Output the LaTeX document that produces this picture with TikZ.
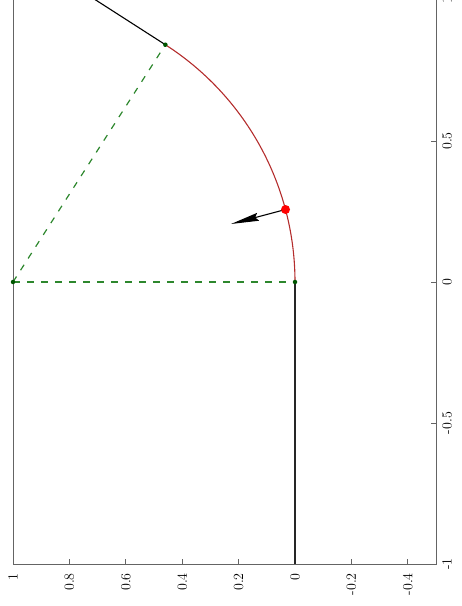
\documentclass[tikz,border=0pt]{standalone}
\usetikzlibrary{arrows.meta}
\definecolor{arcred}{RGB}{180,45,45}
\definecolor{dashgreen}{RGB}{45,135,45}
\definecolor{dotgreen}{RGB}{0,85,0}
\definecolor{framegray}{RGB}{100,100,100}
\begin{document}
\begin{tikzpicture}[
  ticklab/.style={font=\fontsize{14}{16}\selectfont, inner sep=0pt, rotate=90},
  framestyle/.style={draw=framegray, line width=0.9pt},
  tickstyle/.style={draw=framegray, line width=0.8pt},
  arcstyle/.style={draw=arcred, line width=1.1pt},
  blackline/.style={draw=black, line width=1.1pt},
  dashline/.style={draw=dashgreen, line width=1.2pt, dash pattern=on 6.5pt off 7.5pt},
  gdot/.style={circle, fill=dotgreen, inner sep=0pt, minimum size=4.5pt},
  rdot/.style={circle, fill=red, inner sep=0pt, minimum size=9pt},
]
\useasboundingbox (0pt,0pt) rectangle (462pt,606pt);
\clip (0pt,0pt) rectangle (462pt,606pt);
\begin{scope}[shift={(295pt,324pt)}, x={(0pt,282pt)}, y={(-282pt,0pt)}]
  % frame (top edge lies at the cropped border)
  \draw[framestyle] (1.05,1) -- (-1,1) -- (-1,-0.5) -- (1.05,-0.5);
  % ticks on bottom edge (original y axis)
  \foreach \v in {0.8,0.6,0.4,0.2,0,-0.2,-0.4}
    \draw[tickstyle] (-1,\v) -- ++(0.018,0);
  % ticks on right edge (original x axis)
  \foreach \v in {0.5,0,-0.5}
    \draw[tickstyle] (\v,-0.5) -- ++(0,0.018);
  % bottom tick labels
  \foreach \v/\t [count=\i] in {1/1,0.8/0.8,0.6/0.6,0.4/0.4,0.2/0.2,0/0,-0.2/-0.2,-0.4/-0.4}
    \node[ticklab, anchor=east] (yl\i) at ([yshift=-9pt]-1,\v) {\t};
  % right tick labels
  \foreach \v/\t [count=\i] in {1/1,0.5/0.5,0/0,-0.5/-0.5,-1/-1}
    \node[ticklab, anchor=north] (xl\i) at ([xshift=6pt]\v,-0.5) {\t};

  % key points
  \coordinate (O) at (0,0);
  \coordinate (C) at (0,1);
  \coordinate (P) at ({sin(1 r)},{1-cos(1 r)});
  \coordinate (T) at ({sin(1 r)+cos(1 r)},{1-cos(1 r)+sin(1 r)});
  \coordinate (B) at (-1,0);
  \coordinate (R) at ({sin(0.26 r)},{1-cos(0.26 r)});
  \coordinate (A) at ({sin(0.26 r)-0.2*sin(0.26 r)},{1-cos(0.26 r)+0.2*cos(0.26 r)});

  % black line along the axis
  \draw[draw=black!85, line width=1.6pt] (B) -- (O);
  % green dashed radii
  \draw[dashline] (C) -- (O);
  \draw[dashline] (C) -- (P);
  % red arc
  \draw[arcstyle] plot[smooth, samples=60, domain=0:1] ({sin(\x r)},{1-cos(\x r)});
  % tangent line
  \draw[blackline] (P) -- (T);
  % arrow toward centre
  \draw[draw=black, line width=1.1pt, -{Stealth[length=28pt,width=8pt,inset=3pt]}] (R) -- (A);

  % dots
  \node[gdot] (dO) at (O) {};
  \node[gdot] (dC) at (C) {};
  \node[gdot] (dP) at (P) {};
  \node[rdot] (dR) at (R) {};
\end{scope}
\end{tikzpicture}
\end{document}
